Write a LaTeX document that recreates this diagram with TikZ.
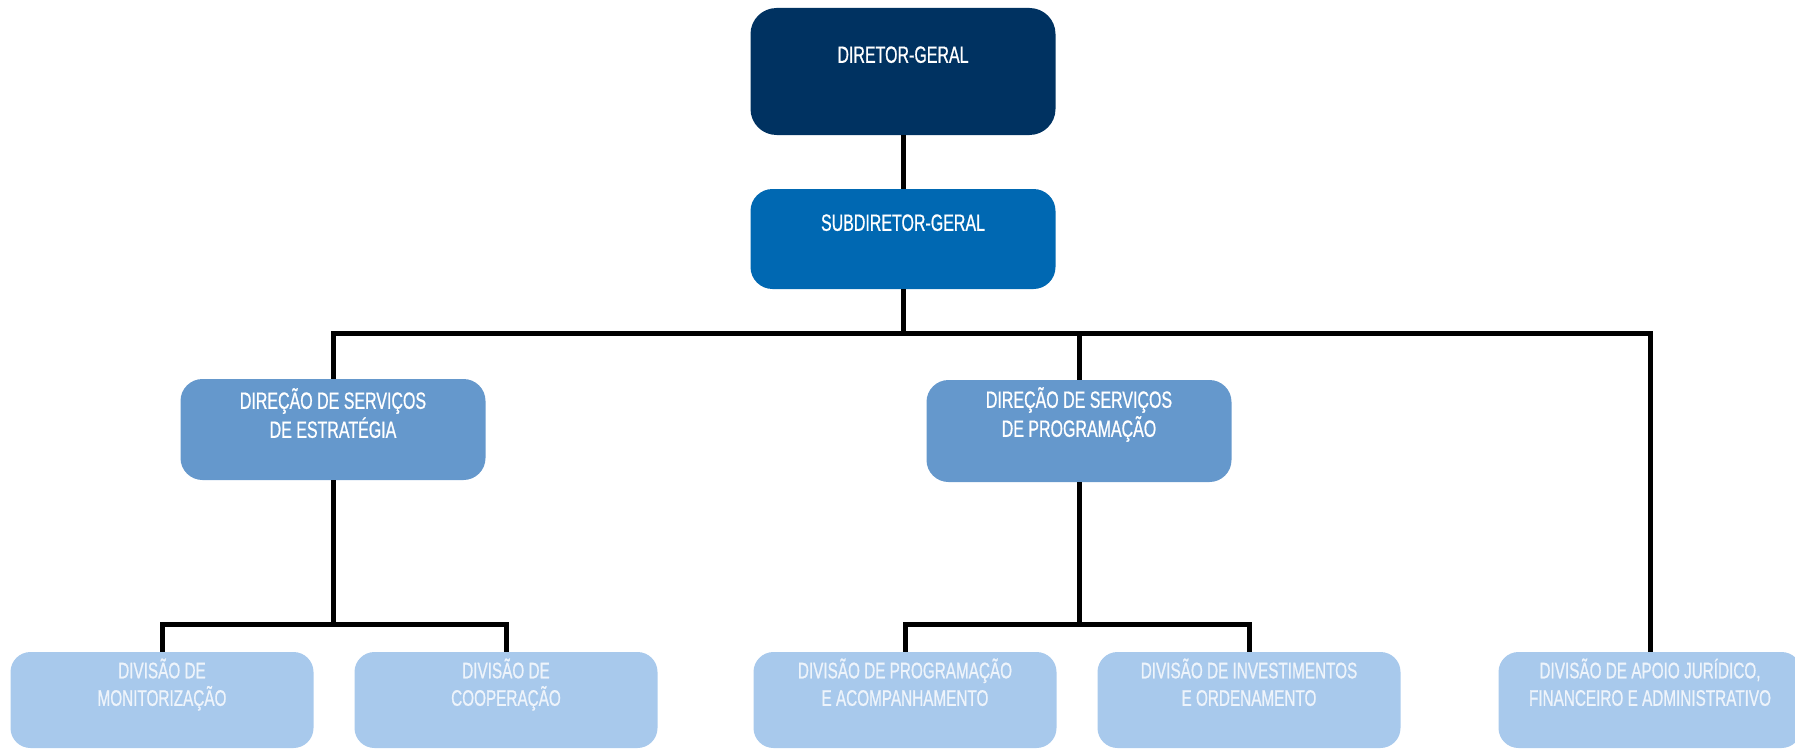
\documentclass[tikz,border=0pt]{standalone}
\usepackage{fontspec}
\setmainfont{Liberation Sans}[FakeStretch=0.68, FakeBold=0.8]
\usepackage{tikz}
\usetikzlibrary{positioning}
\definecolor{navy}{RGB}{0,50,97}
\definecolor{midblue}{RGB}{0,104,178}
\definecolor{steel}{RGB}{101,152,204}
\definecolor{pale}{RGB}{168,201,236}
\definecolor{paletext}{RGB}{238,244,251}

\begin{document}
\begin{tikzpicture}[x=1pt, y=-1pt,
  box/.style={rectangle, rounded corners=22pt, minimum width=305pt, inner sep=0pt},
  txt/.style={anchor=base, align=center, text=white, inner sep=0pt, font=\fontsize{23.5}{29}\selectfont},
  divtxt/.style={anchor=base, align=center, text=paletext, inner sep=0pt, font=\fontsize{22.5}{27.5}\selectfont},
  link/.style={line width=5pt, black}]

\useasboundingbox (0,0) rectangle (1795,749);

% Top of the chart
\node[box, fill=navy, minimum height=127pt, rounded corners=26pt,
  label={[txt, yshift=-55pt]north:DIRETOR-GERAL}] (dg) at (903,71.5) {};
\node[box, fill=midblue, minimum height=100pt,
  label={[txt, yshift=-42pt]north:SUBDIRETOR-GERAL}] (sdg) at (903,239) {};

% Directions of services (base = last line)
\node[box, fill=steel, minimum height=101pt,
  label={[txt, yshift=-59pt]north:{DIREÇÃO DE SERVIÇOS\\DE ESTRATÉGIA}}] (dse) at (333,429.5) {};
\node[box, fill=steel, minimum height=102pt,
  label={[txt, yshift=-57pt]north:{DIREÇÃO DE SERVIÇOS\\DE PROGRAMAÇÃO}}] (dsp) at (1079,431) {};

% Divisions
\node[box, fill=pale, minimum width=303pt, minimum height=96pt, rounded corners=20pt,
  label={[divtxt, yshift=-54pt]north:{DIVISÃO DE\\MONITORIZAÇÃO}}] (mon) at (162,700) {};
\node[box, fill=pale, minimum width=303pt, minimum height=96pt, rounded corners=20pt,
  label={[divtxt, yshift=-54pt]north:{DIVISÃO DE\\COOPERAÇÃO}}] (coop) at (506,700) {};
\node[box, fill=pale, minimum width=303pt, minimum height=96pt, rounded corners=20pt,
  label={[divtxt, yshift=-54pt]north:{DIVISÃO DE PROGRAMAÇÃO\\E ACOMPANHAMENTO}}] (prog) at (905,700) {};
\node[box, fill=pale, minimum width=303pt, minimum height=96pt, rounded corners=20pt,
  label={[divtxt, yshift=-54pt]north:{DIVISÃO DE INVESTIMENTOS\\E ORDENAMENTO}}] (inv) at (1249,700) {};
\node[box, fill=pale, minimum width=303pt, minimum height=96pt, rounded corners=20pt,
  label={[divtxt, yshift=-54pt]north:{DIVISÃO DE APOIO JURÍDICO,\\FINANCEIRO E ADMINISTRATIVO}}] (adm) at (1650,700) {};

% Connectors
\coordinate (bar) at (903,333);
\coordinate (lfork) at (333,624);
\coordinate (rfork) at (1079,624);

\draw[link] (dg) -- (sdg);
\draw[link] (sdg) -- (bar);
\draw[link] (dse) |- (bar) -| (adm);
\draw[link] (dsp) -- (dsp |- bar);
\draw[link] (dse) -- (lfork);
\draw[link] (mon) |- (lfork) -| (coop);
\draw[link] (dsp) -- (rfork);
\draw[link] (prog) |- (rfork) -| (inv);

\end{tikzpicture}
\end{document}
